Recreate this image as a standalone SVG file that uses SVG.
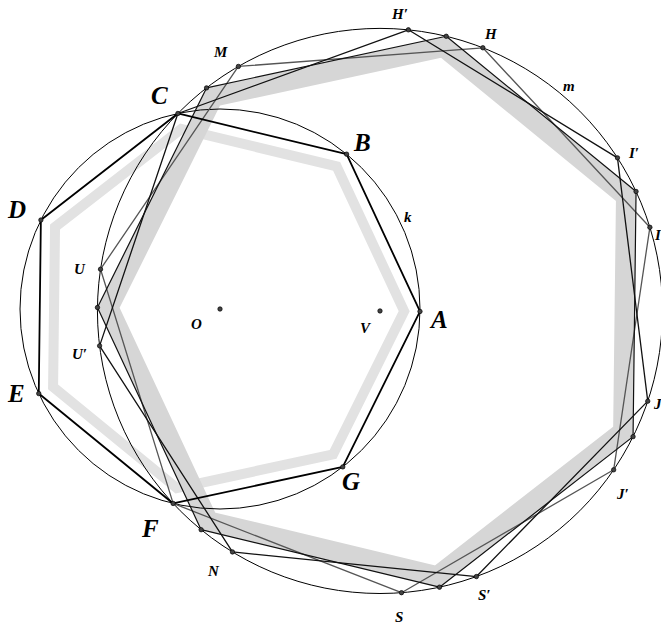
<svg xmlns="http://www.w3.org/2000/svg" width="661" height="628" viewBox="0 0 661 628">
<style>
.band1{fill:none;stroke:#e2e2e2;stroke-width:10;stroke-linejoin:miter}
.band2{fill:none;stroke:#d6d6d6;stroke-width:20;stroke-linejoin:miter}
.circ{fill:none;stroke:#000;stroke-width:1}
.hk{fill:none;stroke:#000;stroke-width:1.8;stroke-linejoin:round}
.hp{fill:none;stroke:#111;stroke-width:1.3;stroke-linejoin:round}
.hq{fill:none;stroke:#111;stroke-width:1.2;stroke-linejoin:round}
.hu{fill:none;stroke:#555;stroke-width:1.3;stroke-linejoin:round}
.pt{fill:#444;stroke:#000;stroke-width:0.7}
.big{font-family:"Liberation Serif","Times New Roman",serif;font-weight:bold;font-style:italic;font-size:25px;fill:#000}
.sm{font-family:"Liberation Serif","Times New Roman",serif;font-weight:bold;font-style:italic;font-size:15px;fill:#000}
</style>
<g id="bands">
<polygon class="band1" points="404.19,311.25 336.60,166.40 181.21,128.93 55.03,227.06 53.08,386.89 176.82,488.07 333.08,454.41"/>
<polygon class="band2" points="108.55,307.63 208.16,521.10 437.16,576.32 623.11,431.71 625.99,196.17 443.63,47.05 213.34,96.66"/>
</g>
<g id="circle-k"><circle class="circ" cx="220" cy="309" r="200"/><text class="sm" x="404" y="222">k</text></g>
<g id="circle-m"><circle class="circ" cx="379.99" cy="310.95" r="282.56"/><text class="sm" x="563" y="91">m</text></g>
<g id="connectors">
<polygon class="hu" points="238.38,66.44 482.86,47.78 649.88,227.29 613.67,469.81 401.49,592.69 173.12,503.43 100.53,269.21"/>
<polygon class="hq" points="97.45,307.50 206.53,87.90 446.23,36.26 636.05,191.47 633.05,436.65 439.49,587.18 201.13,529.70"/>
<polygon class="hp" points="177.88,113.49 408.37,29.82 617.48,157.85 647.76,401.17 476.41,576.55 232.44,551.93 99.59,345.84"/>
<polygon class="hk" points="419.99,311.44 346.60,154.17 177.88,113.49 40.88,220.03 38.76,393.57 173.12,503.43 342.78,466.88"/>
</g>
<g id="A"><circle class="pt" cx="419.99" cy="311.44" r="2.2"/><text class="big" x="431" y="328">A</text></g>
<g id="B"><circle class="pt" cx="346.60" cy="154.17" r="2.2"/><text class="big" x="354" y="151">B</text></g>
<g id="C"><circle class="pt" cx="177.88" cy="113.49" r="2.2"/><text class="big" x="151" y="104">C</text></g>
<g id="D"><circle class="pt" cx="40.88" cy="220.03" r="2.2"/><text class="big" x="8" y="218">D</text></g>
<g id="E"><circle class="pt" cx="38.76" cy="393.57" r="2.2"/><text class="big" x="8" y="402">E</text></g>
<g id="F"><circle class="pt" cx="173.12" cy="503.43" r="2.2"/><text class="big" x="142" y="537">F</text></g>
<g id="G"><circle class="pt" cx="342.78" cy="466.88" r="2.2"/><text class="big" x="342" y="490">G</text></g>
<g id="O"><circle class="pt" cx="220" cy="309" r="2.2"/><text class="sm" x="191" y="329">O</text></g>
<g id="V"><circle class="pt" cx="379.99" cy="310.95" r="2.2"/><text class="sm" x="360" y="333">V</text></g>
<g id="M"><circle class="pt" cx="238.38" cy="66.44" r="2.2"/><text class="sm" x="214" y="57">M</text></g>
<g id="H"><circle class="pt" cx="482.86" cy="47.78" r="2.2"/><text class="sm" x="485" y="39">H</text></g>
<g id="I"><circle class="pt" cx="649.88" cy="227.29" r="2.2"/><text class="sm" x="655" y="240">I</text></g>
<g id="Jp"><circle class="pt" cx="613.67" cy="469.81" r="2.2"/><text class="sm" x="617" y="499">J′</text></g>
<g id="S"><circle class="pt" cx="401.49" cy="592.69" r="2.2"/><text class="sm" x="395" y="622">S</text></g>
<g id="U"><circle class="pt" cx="100.53" cy="269.21" r="2.2"/><text class="sm" x="74" y="274">U</text></g>
<g id="Hp"><circle class="pt" cx="408.37" cy="29.82" r="2.2"/><text class="sm" x="392" y="19">H′</text></g>
<g id="Ip"><circle class="pt" cx="617.48" cy="157.85" r="2.2"/><text class="sm" x="629" y="158">I′</text></g>
<g id="J"><circle class="pt" cx="647.76" cy="401.17" r="2.2"/><text class="sm" x="654" y="409">J</text></g>
<g id="Sp"><circle class="pt" cx="476.41" cy="576.55" r="2.2"/><text class="sm" x="478" y="600">S′</text></g>
<g id="N"><circle class="pt" cx="232.44" cy="551.93" r="2.2"/><text class="sm" x="208" y="576">N</text></g>
<g id="Up"><circle class="pt" cx="99.59" cy="345.84" r="2.2"/><text class="sm" x="72" y="359">U′</text></g>
<g id="Q0"><circle class="pt" cx="97.45" cy="307.50" r="2.2"/></g>
<g id="Q1"><circle class="pt" cx="201.13" cy="529.70" r="2.2"/></g>
<g id="Q2"><circle class="pt" cx="439.49" cy="587.18" r="2.2"/></g>
<g id="Q3"><circle class="pt" cx="633.05" cy="436.65" r="2.2"/></g>
<g id="Q4"><circle class="pt" cx="636.05" cy="191.47" r="2.2"/></g>
<g id="Q5"><circle class="pt" cx="446.23" cy="36.26" r="2.2"/></g>
<g id="Q6"><circle class="pt" cx="206.53" cy="87.90" r="2.2"/></g>
</svg>
